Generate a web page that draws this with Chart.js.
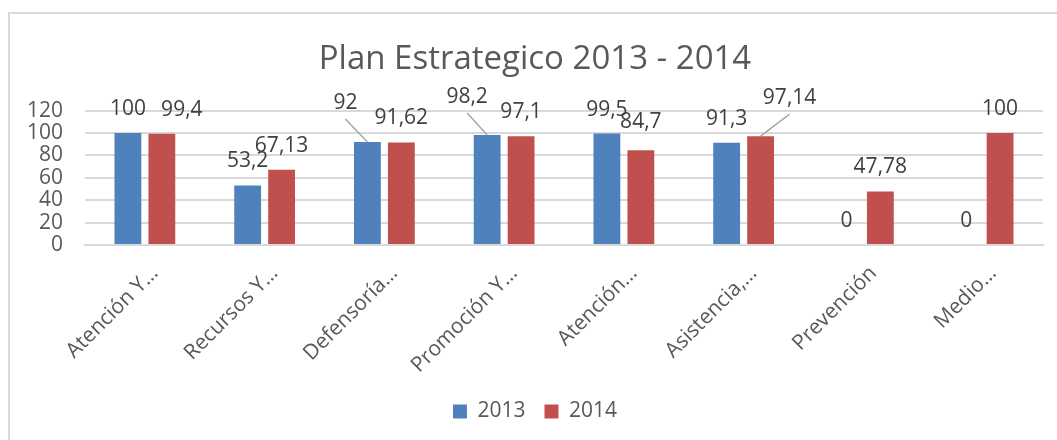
<!DOCTYPE html>
<html>
<head>
<meta charset="utf-8">
<script src="https://cdn.jsdelivr.net/npm/chart.js@4.4.0/dist/chart.umd.min.js"></script>
<style>
  body { margin: 0; background: #fff; }
  #frame {
    position: absolute; left: 8px; top: 12px; width: 1100px; height: 500px;
    border-left: 2px solid #d9d9d9; border-top: 2px solid #d9d9d9;
  }
  #wrap { position: absolute; left: 0; top: 0; width: 1057px; height: 440px; }
</style>
</head>
<body>
<div id="frame"></div>
<div id="wrap"><canvas id="planChart"></canvas></div>
<script>
// Chart data
const categories = ['Atención Y…', 'Recursos Y…', 'Defensoría…', 'Promoción Y…',
    'Atención…', 'Asistencia,…', 'Prevención', 'Medio…'];
const values2013 = [100, 53.2, 92, 98.2, 99.5, 91.3, 0, 0];
const values2014 = [99.4, 67.13, 91.62, 97.1, 84.7, 97.14, 47.78, 100];
const yTicks = [0, 20, 40, 60, 80, 100, 120];

// Where Excel moved some labels away from their bar (px, dx / dy)
const labelShift2013 = [[0, 0], [0, 0], [-22, -15], [-20, -14], [0, 0], [0, 0], [0, 0], [0, 0]];
const labelShift2014 = [[20, 0], [0, 0], [0, 0], [0, 0], [0, -4], [29, -14], [0, 0], [0, 0]];

const FONT = "'Open Sans', sans-serif";

// Formats numbers with a comma decimal separator
function fmt(v) {
    return String(v).replace('.', ',');
}

// Draws the value labels (and leader lines) above each bar
const valueLabels = {
    id: 'valueLabels',
    afterDatasetsDraw(chart) {
        const ctx = chart.ctx;
        const shifts = [labelShift2013, labelShift2014];
        ctx.save();
        ctx.font = '21px ' + FONT;
        ctx.textAlign = 'center';
        ctx.textBaseline = 'middle';
        chart.data.datasets.forEach((ds, i) => {
            const meta = chart.getDatasetMeta(i);
            meta.data.forEach((bar, j) => {
                const [dx, dy] = shifts[i][j];
                const lx = bar.x + dx;
                const ly = bar.y - 24 + dy;
                if (dy <= -10) {
                    ctx.strokeStyle = '#a6a6a6';
                    ctx.lineWidth = 1.5;
                    ctx.beginPath();
                    ctx.moveTo(lx, ly + 16);
                    ctx.lineTo(bar.x, bar.y);
                    ctx.stroke();
                }
                ctx.fillStyle = '#404040';
                ctx.fillText(fmt(ds.data[j]), lx, ly);
            });
        });
        ctx.restore();
    }
};

const ctx = document.getElementById('planChart').getContext('2d');

new Chart(ctx, {
    type: 'bar',
    data: {
        labels: categories,
        datasets: [{
            label: '2013',
            data: values2013,
            backgroundColor: '#4f81bd',
            categoryPercentage: 0.567,
            barPercentage: 0.79
        }, {
            label: '2014',
            data: values2014,
            backgroundColor: '#c0504d',
            categoryPercentage: 0.567,
            barPercentage: 0.79
        }]
    },
    options: {
        responsive: true,
        maintainAspectRatio: false,
        animation: false,
        layout: { padding: { left: 27, right: 14, top: 0, bottom: 8 } },
        plugins: {
            title: {
                display: true,
                text: 'Plan Estrategico 2013 - 2014',
                color: '#595959',
                font: { family: FONT, size: 33, weight: 'normal' },
                padding: { top: 40, bottom: 31 }
            },
            legend: {
                position: 'bottom',
                labels: {
                    color: '#595959',
                    font: { family: FONT, size: 21 },
                    boxWidth: 14,
                    boxHeight: 14,
                    padding: 19
                }
            },
            tooltip: { enabled: false }
        },
        scales: {
            x: {
                grid: { display: false },
                border: { color: '#d9d9d9', width: 2 },
                afterFit: axis => {
                    axis.paddingLeft = 0;
                    axis.paddingRight = 0;
                    axis.height = 137;
                },
                ticks: {
                    color: '#595959',
                    font: { family: FONT, size: 21 },
                    maxRotation: 45,
                    minRotation: 45,
                    autoSkip: false,
                    labelOffset: 10,
                    padding: 8
                }
            },
            y: {
                min: 0,
                max: 120,
                afterBuildTicks: axis => { axis.ticks = yTicks.map(v => ({ value: v })); },
                afterFit: axis => { axis.width = 58; },
                grid: { color: '#d9d9d9', lineWidth: 2, drawTicks: false },
                border: { display: false },
                ticks: {
                    color: '#595959',
                    font: { family: FONT, size: 21 },
                    autoSkip: false,
                    padding: 22
                }
            }
        }
    },
    plugins: [valueLabels]
});
</script>
</body>
</html>
